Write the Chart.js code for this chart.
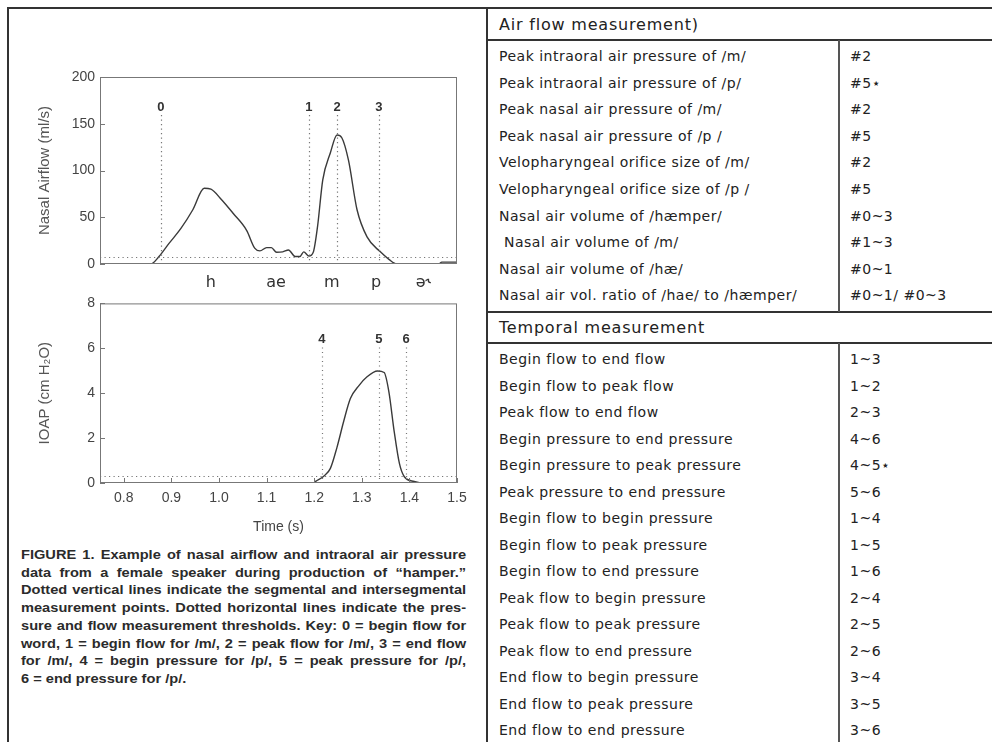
<!DOCTYPE html>
<html>
<head>
<meta charset="utf-8">
<script src="https://cdn.jsdelivr.net/npm/chart.js@4.4.0/dist/chart.umd.min.js"></script>
<style>
body{margin:0;background:#fff;width:992px;height:742px;overflow:hidden;position:relative;font-family:"Liberation Sans",Arial,sans-serif}
.ln{position:absolute;background:#333}
canvas{position:absolute}
#caption{position:absolute;left:21px;top:546px;width:405px;font-weight:bold;font-size:13.3px;line-height:17.7px;color:#2b2b2b;transform:scaleX(1.099);transform-origin:0 0}
#caption div{text-align:justify;text-align-last:justify}
#caption div.last{text-align:left;text-align-last:left}
.row{position:absolute;height:20px;line-height:20px;font-family:"DejaVu Sans",sans-serif;font-size:14px;letter-spacing:0.5px;color:#222;white-space:nowrap}
.head{position:absolute;height:24px;line-height:24px;font-family:"DejaVu Sans",sans-serif;font-size:16px;letter-spacing:0.8px;color:#222;white-space:nowrap;left:499px}
</style>
</head>
<body>
<!-- frame lines -->
<div class="ln" style="left:7px;top:7px;width:985px;height:2px"></div>
<div class="ln" style="left:7px;top:7px;width:2px;height:735px"></div>
<div class="ln" style="left:486px;top:7px;width:2px;height:735px"></div>
<div class="ln" style="left:487px;top:39px;width:505px;height:2px"></div>
<div class="ln" style="left:487px;top:311px;width:505px;height:2px"></div>
<div class="ln" style="left:487px;top:342px;width:505px;height:2px"></div>
<div class="ln" style="left:838px;top:40px;width:2px;height:272px;background:#555"></div>
<div class="ln" style="left:838px;top:343px;width:2px;height:399px;background:#555"></div>

<canvas id="flowChart" width="480" height="230" style="left:0;top:60px"></canvas>
<canvas id="pressChart" width="480" height="250" style="left:0;top:290px"></canvas>

<div id="caption">
<div>FIGURE 1. Example of nasal airflow and intraoral air pressure</div>
<div>data from a female speaker during production of “hamper.”</div>
<div>Dotted vertical lines indicate the segmental and intersegmental</div>
<div>measurement points. Dotted horizontal lines indicate the pres-</div>
<div>sure and flow measurement thresholds. Key: 0 = begin flow for</div>
<div>word, 1 = begin flow for /m/, 2 = peak flow for /m/, 3 = end flow</div>
<div>for /m/, 4 = begin pressure for /p/, 5 = peak pressure for /p/,</div>
<div class="last">6 = end pressure for /p/.</div>
</div>

<div class="head" style="top:13px">Air flow measurement)</div>
<div class="head" style="top:316px">Temporal measurement</div>
<div id="table"></div>

<script>
// nasal airflow trace (time s, ml/s)
var flowTime = [0.75, 0.847, 0.857, 0.874, 0.895, 0.92, 0.945, 0.969, 0.983, 1.005, 1.03, 1.058, 1.075, 1.086, 1.1, 1.11, 1.121, 1.134, 1.146, 1.16, 1.17, 1.178, 1.189, 1.198, 1.207, 1.218, 1.234, 1.248, 1.258, 1.272, 1.29, 1.311, 1.339, 1.357, 1.374, 1.462, 1.468, 1.5];
var flowValue = [0, 0, 0, 8, 22, 38, 58, 81, 80, 69, 54, 36, 17, 14, 17.5, 17.5, 12.5, 13, 15, 8, 8, 13, 8.5, 12.5, 40, 90, 119, 138, 135, 111, 58, 29, 13, 5, 0, 0, 2, 2];

// intraoral air pressure trace (time s, cm H2O)
var pressTime = [0.75, 1.199, 1.203, 1.22, 1.234, 1.248, 1.262, 1.276, 1.294, 1.311, 1.333, 1.347, 1.357, 1.368, 1.379, 1.389, 1.41, 1.431, 1.5];
var pressValue = [0, 0, 0.07, 0.3, 0.65, 1.6, 2.75, 3.76, 4.34, 4.73, 4.99, 4.92, 4.05, 2.3, 0.87, 0.29, 0.07, 0, 0];

// measurement points
var flowMarkLabels = ['0', '1', '2', '3'];
var flowMarkTimes = [0.878, 1.189, 1.248, 1.336];
var pressMarkLabels = ['4', '5', '6'];
var pressMarkTimes = [1.216, 1.336, 1.393];
var flowThreshold = 8;
var pressThreshold = 0.3;

// segment labels under the airflow trace
var phonemes = ['h', 'ae', 'm', 'p', 'ə˞'];
var phonemeTimes = [0.983, 1.12, 1.237, 1.33, 1.429];

var timeTicks = [0.8, 0.9, 1.0, 1.1, 1.2, 1.3, 1.4, 1.5];

// table
var airLabels = ['Peak intraoral air pressure of /m/', 'Peak intraoral air pressure of /p/', 'Peak nasal air pressure of /m/', 'Peak nasal air pressure of /p /', 'Velopharyngeal orifice size of /m/', 'Velopharyngeal orifice size of /p /', 'Nasal air volume of /hæmper/', '\u00a0Nasal air volume of /m/', 'Nasal air volume of /hæ/', 'Nasal air vol. ratio of /hae/ to /hæmper/'];
var airCodes = ['#2', '#5⋆', '#2', '#5', '#2', '#5', '#0~3', '#1~3', '#0~1', '#0~1/ #0~3'];
var timeLabels = ['Begin flow to end flow', 'Begin flow to peak flow', 'Peak flow to end flow', 'Begin pressure to end pressure', 'Begin pressure to peak pressure', 'Peak pressure to end pressure', 'Begin flow to begin pressure', 'Begin flow to peak pressure', 'Begin flow to end pressure', 'Peak flow to begin pressure', 'Peak flow to peak pressure', 'Peak flow to end pressure', 'End flow to begin pressure', 'End flow to peak pressure', 'End flow to end pressure'];
var timeCodes = ['1~3', '1~2', '2~3', '4~6', '4~5⋆', '5~6', '1~4', '1~5', '1~6', '2~4', '2~5', '2~6', '3~4', '3~5', '3~6'];

function addRows(labels, codes, firstY, step) {
  var box = document.getElementById('table');
  for (var i = 0; i < labels.length; i++) {
    var y = firstY + i * step - 10;
    var a = document.createElement('div');
    a.className = 'row';
    a.style.left = '499px';
    a.style.top = y + 'px';
    a.textContent = labels[i];
    box.appendChild(a);
    var b = document.createElement('div');
    b.className = 'row';
    b.style.left = '850px';
    b.style.top = y + 'px';
    b.textContent = codes[i];
    box.appendChild(b);
  }
}
addRows(airLabels, airCodes, 56, 26.6);
addRows(timeLabels, timeCodes, 359, 26.5);

function points(xs, ys) {
  return xs.map(function (t, i) { return {x: t, y: ys[i]}; });
}

// dotted marks, labels, box and inward ticks
var marksPlugin = {
  id: 'marks',
  afterDatasetsDraw: function (chart, args, o) {
    var ctx = chart.ctx, a = chart.chartArea, x = chart.scales.x, y = chart.scales.y;
    ctx.save();
    ctx.strokeStyle = '#777';
    ctx.lineWidth = 1.2;
    ctx.setLineDash([1.2, 3.3]);
    var ty = Math.round(y.getPixelForValue(o.threshold)) + 0.5;
    ctx.beginPath();
    ctx.moveTo(a.left, ty);
    ctx.lineTo(a.right, ty);
    ctx.stroke();
    var labelY = a.top + o.labelOffset;
    for (var i = 0; i < o.times.length; i++) {
      var px = Math.round(x.getPixelForValue(o.times[i])) + 0.5;
      ctx.beginPath();
      ctx.moveTo(px, labelY + 8);
      ctx.lineTo(px, a.bottom);
      ctx.stroke();
    }
    ctx.setLineDash([]);
    ctx.fillStyle = '#333';
    ctx.font = 'bold 13px "Liberation Sans"';
    ctx.textAlign = 'center';
    ctx.textBaseline = 'middle';
    for (var j = 0; j < o.times.length; j++) {
      ctx.fillText(o.labels[j], x.getPixelForValue(o.times[j]), labelY);
    }
    if (o.phonemes) {
      ctx.font = '16px "DejaVu Sans"';
      for (var k = 0; k < o.phonemes.length; k++) {
        ctx.fillText(o.phonemes[k], x.getPixelForValue(o.phonemeTimes[k]), a.bottom + 19);
      }
    }
    // box
    ctx.strokeStyle = '#777';
    ctx.lineWidth = 1;
    ctx.strokeRect(a.left + 0.5, a.top + 0.5, a.right - a.left - 1, a.bottom - a.top - 1);
    // inward ticks
    ctx.beginPath();
    y.ticks.forEach(function (t) {
      var py = Math.round(y.getPixelForValue(t.value)) + 0.5;
      ctx.moveTo(a.left, py);
      ctx.lineTo(a.left + 5, py);
    });
    if (o.xTicks) {
      x.ticks.forEach(function (t) {
        var px = Math.round(x.getPixelForValue(t.value)) + 0.5;
        ctx.moveTo(px, a.bottom);
        ctx.lineTo(px, a.bottom - 5);
      });
    }
    ctx.stroke();
    ctx.restore();
  }
};

var tickFont = {family: 'Liberation Sans', size: 14};
var titleFont = {family: 'Liberation Sans', size: 15};

new Chart(document.getElementById('flowChart'), {
  type: 'line',
  data: {
    datasets: [{
      data: points(flowTime, flowValue),
      borderColor: '#3a3a3a',
      borderWidth: 1.4,
      pointRadius: 0,
      cubicInterpolationMode: 'monotone',
      fill: false
    }]
  },
  options: {
    responsive: false,
    animation: false,
    layout: {padding: {left: 32, right: 23, top: 17, bottom: 26}},
    scales: {
      x: {type: 'linear', min: 0.75, max: 1.5, display: false},
      y: {
        min: 0, max: 200,
        ticks: {stepSize: 50, padding: 5, color: '#444', font: tickFont},
        grid: {display: false, drawTicks: false},
        border: {display: false},
        title: {display: true, text: 'Nasal Airflow (ml/s)', color: '#555', font: titleFont},
        afterFit: function (s) { s.width = 68; }
      }
    },
    plugins: {
      legend: {display: false},
      tooltip: {enabled: false},
      marks: {times: flowMarkTimes, labels: flowMarkLabels, threshold: flowThreshold, labelOffset: 30, phonemes: phonemes, phonemeTimes: phonemeTimes}
    }
  },
  plugins: [marksPlugin]
});

new Chart(document.getElementById('pressChart'), {
  type: 'line',
  data: {
    datasets: [{
      data: points(pressTime, pressValue),
      borderColor: '#3a3a3a',
      borderWidth: 1.4,
      pointRadius: 0,
      cubicInterpolationMode: 'monotone',
      fill: false
    }]
  },
  options: {
    responsive: false,
    animation: false,
    layout: {padding: {left: 32, right: 23, top: 9, bottom: 0}},
    scales: {
      x: {
        type: 'linear', min: 0.75, max: 1.5,
        afterBuildTicks: function (s) { s.ticks = timeTicks.map(function (v) { return {value: v}; }); },
        ticks: {padding: 7, color: '#444', font: tickFont, callback: function (v) { return Number(v).toFixed(1); }},
        grid: {display: false, drawTicks: false},
        border: {display: false},
        title: {display: true, text: 'Time (s)', color: '#444', font: tickFont},
        afterFit: function (s) { s.height = 57; }
      },
      y: {
        min: 0, max: 8,
        ticks: {stepSize: 2, padding: 5, color: '#444', font: tickFont},
        grid: {display: false, drawTicks: false},
        border: {display: false},
        title: {display: true, text: 'IOAP (cm H₂O)', color: '#555', font: titleFont},
        afterFit: function (s) { s.width = 68; }
      }
    },
    plugins: {
      legend: {display: false},
      tooltip: {enabled: false},
      marks: {times: pressMarkTimes, labels: pressMarkLabels, threshold: pressThreshold, labelOffset: 36, xTicks: true}
    }
  },
  plugins: [marksPlugin]
});
</script>
</body>
</html>
